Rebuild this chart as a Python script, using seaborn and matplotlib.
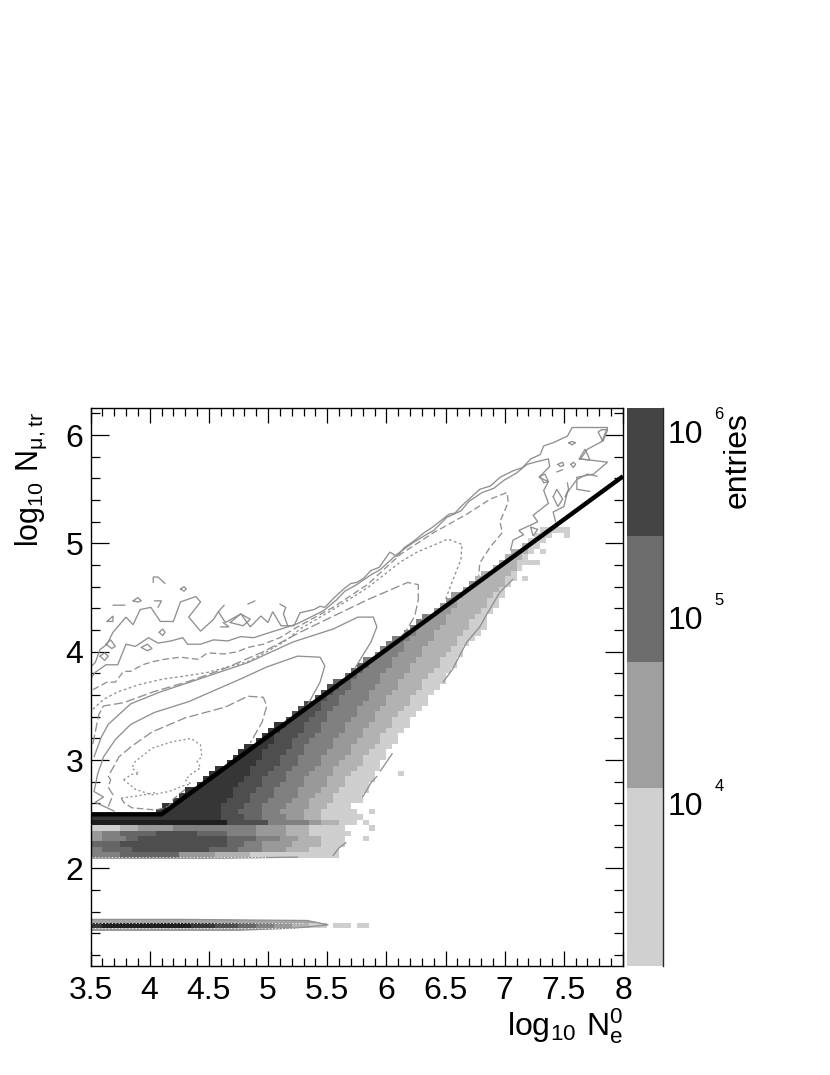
import numpy as np
import pandas as pd
import seaborn as sns
import matplotlib
matplotlib.use('Agg')
import matplotlib.pyplot as plt
from matplotlib.colors import ListedColormap
from matplotlib.ticker import MultipleLocator, LogLocator, NullFormatter, FuncFormatter

sns.set_style('ticks')
plt.rcParams['font.family'] = ['Liberation Sans', 'DejaVu Sans']
plt.rcParams['mathtext.default'] = 'regular'
for key in ['text.color', 'axes.labelcolor', 'xtick.color', 'ytick.color']:
    plt.rcParams[key] = 'black'

# grey shades of the histogram, level 1 (darkest) to 8 (lightest)
shades = ['#1f1f1f', '#363636', '#4e4e4e', '#666666', '#808080', '#999999', '#b2b2b2', '#cfcfcf']

# wedge below the cut line: row centres, first filled x, then where each level stops
wedge_y = [2.525, 2.575, 2.625, 2.675, 2.725, 2.775, 2.825, 2.875, 2.925, 2.975,
           3.025, 3.075, 3.125, 3.175, 3.225, 3.275, 3.325, 3.375, 3.425, 3.475,
           3.525, 3.575, 3.625, 3.675, 3.725, 3.775, 3.825, 3.875, 3.925, 3.975,
           4.025, 4.075, 4.125, 4.175, 4.225, 4.275, 4.325, 4.375, 4.425, 4.475,
           4.525, 4.575, 4.625, 4.675, 4.725, 4.775, 4.825, 4.875, 4.925, 4.975,
           5.025, 5.075, 5.125]
wedge_start = [4.05, 4.10, 4.20, 4.25, 4.30, 4.40, 4.45, 4.50, 4.55, 4.65,
               4.70, 4.75, 4.80, 4.90, 4.95, 5.00, 5.05, 5.15, 5.20, 5.25,
               5.30, 5.40, 5.45, 5.50, 5.55, 5.65, 5.70, 5.75, 5.80, 5.90,
               5.95, 6.00, 6.05, 6.15, 6.20, 6.25, 6.30, 6.40, 6.45, 6.50,
               6.55, 6.65, 6.70, 6.75, 6.80, 6.90, 6.95, 7.00, 7.05, 7.15,
               7.20, 7.25, 7.30]
level2_end = [4.60, 4.60, 4.65, 4.70, 4.70, 4.75, 4.80, 4.85, 4.85, 4.90,
              4.95, 4.95, 5.00, 5.05, 5.05, 5.10, 5.15]
level3_end = [4.75, 4.80, 4.85, 4.85, 4.90, 4.95, 4.95, 5.00, 5.05, 5.10,
              5.10, 5.15, 5.20, 5.20, 5.25, 5.30, 5.30, 5.35, 5.40, 5.45,
              5.45, 5.50, 5.55, 5.60]
level4_end = [4.95, 4.95, 5.00, 5.05, 5.05, 5.10, 5.15, 5.15, 5.20, 5.25,
              5.25, 5.30, 5.30, 5.35, 5.40, 5.45, 5.45, 5.50, 5.50, 5.55,
              5.60, 5.60, 5.65, 5.70, 5.70, 5.75, 5.80, 5.85]
level5_end = [5.10, 5.15, 5.20, 5.25, 5.25, 5.30, 5.30, 5.35, 5.40, 5.45,
              5.45, 5.50, 5.55, 5.55, 5.60, 5.65, 5.65, 5.70, 5.75, 5.75,
              5.80, 5.85, 5.85, 5.90, 5.95, 5.95, 6.00, 6.05, 6.05, 6.10,
              6.15, 6.15, 6.20, 6.25, 6.25, 6.30, 6.35]
level6_end = [5.30, 5.35, 5.35, 5.40, 5.45, 5.50, 5.50, 5.55, 5.55, 5.60,
              5.65, 5.70, 5.70, 5.75, 5.80, 5.80, 5.85, 5.90, 5.90, 5.95,
              6.00, 6.00, 6.05, 6.10, 6.10, 6.15, 6.20, 6.20, 6.25, 6.30,
              6.30, 6.35, 6.40, 6.40, 6.45, 6.50, 6.50, 6.55, 6.60, 6.60,
              6.65, 6.70, 6.75]
level7_end = [5.45, 5.50, 5.55, 5.55, 5.60, 5.65, 5.65, 5.70, 5.75, 5.80,
              5.80, 5.85, 5.90, 5.95, 5.95, 6.00, 6.05, 6.05, 6.10, 6.15,
              6.20, 6.20, 6.25, 6.30, 6.30, 6.35, 6.40, 6.45, 6.45, 6.50,
              6.55, 6.60, 6.60, 6.65, 6.70, 6.70, 6.75, 6.80, 6.85, 6.85,
              6.90, 6.95, 7.00, 7.00, 7.05, 7.10, 7.10, 7.15, 7.20, 7.20]
level8_end = [5.75, 5.70, 5.80, 5.80, 5.85, 5.85, 5.90, 5.90, 5.95, 5.95,
              6.00, 6.00, 6.05, 6.10, 6.10, 6.15, 6.20, 6.20, 6.25, 6.30,
              6.35, 6.35, 6.40, 6.45, 6.50, 6.50, 6.55, 6.60, 6.60, 6.65,
              6.65, 6.70, 6.75, 6.80, 6.85, 6.85, 6.85, 6.90, 6.95, 6.95,
              7.00, 7.00, 7.05, 7.10, 7.10, 7.15, 7.20, 7.20, 7.25, 7.30,
              7.35, 7.40, 7.45]

# flat rows from x = 3.5: (level, number of cells), level 0 is an empty cell
flat_y = [2.125, 2.175, 2.225, 2.275, 2.325, 2.375, 2.425, 2.475, 1.475]
row_2125 = [(5, 5), (4, 10), (6, 6), (7, 6), (8, 15)]
row_2175 = [(5, 2), (4, 5), (3, 13), (4, 5), (5, 4), (6, 4), (7, 4), (8, 5)]
row_2225 = [(4, 5), (3, 18), (4, 3), (5, 3), (6, 5), (7, 5), (8, 4)]
row_2275 = [(6, 2), (5, 4), (4, 2), (3, 15), (4, 5), (5, 4), (6, 3), (7, 4), (8, 4)]
row_2325 = [(6, 2), (5, 3), (4, 6), (3, 7), (4, 5), (5, 5), (6, 5), (7, 4), (8, 6)]
row_2375 = [(8, 5), (7, 3), (6, 6), (5, 14), (6, 5), (7, 4), (8, 6)]
row_2425 = [(1, 23), (3, 7), (5, 7), (6, 2), (7, 3), (8, 3)]
row_2475 = [(2, 22), (3, 4), (4, 3), (5, 4), (6, 3), (7, 3), (8, 6)]
row_1475 = [(2, 2), (1, 15), (2, 4), (3, 4), (4, 3), (5, 3), (6, 3), (7, 3), (8, 3), (0, 1), (8, 3), (0, 1), (8, 2)]
flat_rows = [row_2125, row_2175, row_2225, row_2275, row_2325, row_2375, row_2425, row_2475, row_1475]

# stray light cells right of the wedge
stray_x = [5.875, 5.775, 5.825, 5.875, 5.675, 5.825, 6.125, 7.525, 7.525, 7.475, 7.325, 7.275, 7.225, 7.175]
stray_y = [2.525, 2.475, 2.425, 2.375, 2.325, 2.275, 2.875, 5.075, 5.125, 5.125, 4.925, 4.825, 4.825, 4.675]

# cut line
cut_x = [3.5, 4.1, 8.0]
cut_y = [2.5, 2.5, 5.62]

# contour lines
outer_x = [3.50, 3.54, 3.58, 3.64, 3.69, 3.80, 3.86, 3.92, 4.01, 4.09, 4.20, 4.26, 4.39, 4.43, 4.33, 4.43, 4.54, 4.58, 4.64, 4.77, 4.85, 4.94, 5.00, 5.04, 5.11, 5.22,
           5.27, 5.39, 5.44, 5.48, 5.56, 5.64, 5.70, 5.75, 5.81, 5.87, 5.94, 6.03, 6.09, 6.15, 6.23, 6.32, 6.39, 6.46, 6.53, 6.58, 6.64, 6.71, 6.79, 6.88, 6.96, 7.07, 7.15, 7.22, 7.30, 7.33, 7.41, 7.53, 7.57,
           7.72, 7.87, 7.82, 7.70, 7.64, 7.87, 7.75, 7.61, 7.61, 7.72]
outer_y = [3.86, 3.90, 4.02, 4.07, 4.18, 4.32, 4.25, 4.39, 4.41, 4.28, 4.28, 4.46, 4.51, 4.46, 4.32, 4.19, 4.30, 4.37, 4.27, 4.35, 4.23, 4.33, 4.27, 4.37, 4.24, 4.24,
           4.36, 4.39, 4.42, 4.41, 4.50, 4.58, 4.63, 4.64, 4.68, 4.75, 4.78, 4.92, 4.88, 4.96, 5.02, 5.10, 5.15, 5.21, 5.27, 5.28, 5.35, 5.42, 5.50, 5.53, 5.61, 5.67, 5.70, 5.78, 5.82, 5.90, 5.93, 5.99, 6.07,
           6.07, 6.07, 5.94, 5.87, 5.78, 5.75, 5.64, 5.61, 5.50, 5.48]
second_x = [3.50, 3.54, 3.63, 3.73, 3.80, 3.88, 3.99, 4.07, 4.18, 4.28, 4.32, 4.43, 4.54, 4.66, 4.77, 4.88, 5.02, 5.11, 5.25,
            5.47, 5.58, 5.65, 5.75, 5.87, 5.95, 6.09, 6.23, 6.32, 6.40, 6.51, 6.63, 6.70, 6.81, 6.91, 6.99, 7.10, 7.19, 7.29, 7.37,
            7.38, 7.29, 7.37, 7.33, 7.37, 7.24, 7.28, 7.12, 7.16, 7.07, 7.05]
second_y = [3.75, 3.81, 3.88, 3.88, 4.07, 4.05, 4.13, 4.08, 4.10, 4.13, 4.07, 4.07, 4.11, 4.10, 4.14, 4.13, 4.18, 4.21, 4.26,
            4.38, 4.48, 4.56, 4.62, 4.71, 4.76, 4.90, 5.01, 5.07, 5.12, 5.24, 5.30, 5.39, 5.47, 5.51, 5.58, 5.65, 5.73, 5.76, 5.78,
            5.71, 5.61, 5.57, 5.49, 5.37, 5.26, 5.20, 5.12, 5.08, 5.03, 4.94]
dash_a_x = [3.52, 3.64, 3.71, 3.78, 3.84, 3.94, 4.03, 4.12, 4.26, 4.41, 4.49, 4.63, 4.74, 4.83, 4.96, 5.10, 5.25, 5.55, 5.84, 6.12, 6.40, 6.68, 6.88, 7.02, 7.03, 6.96, 6.98, 6.88, 6.79, 6.78]
dash_a_y = [3.65, 3.72, 3.72, 3.82, 3.82, 3.88, 3.91, 3.93, 3.95, 3.93, 3.99, 3.98, 4.00, 4.04, 4.07, 4.13, 4.23, 4.41, 4.62, 4.90, 5.10, 5.27, 5.41, 5.47, 5.38, 5.20, 5.10, 4.97, 4.82, 4.70]
dot_a_x = [3.52, 3.61, 3.73, 3.92, 4.12, 4.26, 4.49, 4.66, 4.83, 4.99, 5.16, 5.27, 5.55, 5.84, 6.12, 6.26, 6.52, 6.64, 6.63, 6.54, 6.50]
dot_a_y = [3.47, 3.56, 3.63, 3.70, 3.75, 3.77, 3.81, 3.86, 3.91, 4.00, 4.11, 4.21, 4.39, 4.59, 4.83, 4.92, 5.04, 4.99, 4.85, 4.60, 4.48]
dash_b_x = [3.52, 3.57, 3.61, 3.78, 4.03, 4.34, 4.62, 4.96, 5.27, 5.84, 6.18, 6.27, 6.27, 6.24, 6.16, 6.08]
dash_b_y = [3.15, 3.42, 3.50, 3.53, 3.63, 3.73, 3.84, 4.00, 4.18, 4.48, 4.64, 4.62, 4.48, 4.33, 4.18, 4.10]
solid_a_x = [3.53, 3.59, 3.65, 3.74, 3.84, 4.09, 4.34, 4.83, 5.21, 5.55, 5.76, 5.89, 5.92, 5.87, 5.78, 5.73]
solid_a_y = [3.03, 3.21, 3.33, 3.42, 3.52, 3.63, 3.72, 3.90, 4.09, 4.21, 4.32, 4.32, 4.23, 4.09, 3.93, 3.84]
solid_b_x = [3.70, 3.54, 3.61, 3.53, 3.56, 3.61, 3.71, 3.84, 4.04, 4.33, 4.77, 4.99, 5.25, 5.44, 5.48, 5.44, 5.33]
solid_b_y = [2.53, 2.61, 2.66, 2.71, 2.87, 3.03, 3.19, 3.33, 3.44, 3.54, 3.75, 3.86, 3.96, 3.95, 3.87, 3.72, 3.50]
dash_c_x = [3.65, 3.69, 3.65, 3.67, 3.65, 3.74, 3.85, 4.02, 4.30, 4.64, 4.83, 4.96, 4.99, 4.95, 4.85]
dash_c_y = [2.57, 2.68, 2.75, 2.82, 2.85, 3.03, 3.13, 3.26, 3.39, 3.49, 3.59, 3.58, 3.50, 3.35, 3.16]
dash_d_x = [3.76, 3.78, 3.85, 4.05, 4.16, 4.20, 4.30]
dash_d_y = [2.65, 2.61, 2.56, 2.54, 2.57, 2.64, 2.73]
dot_b_x = [3.78, 3.85, 3.91, 3.85, 3.88, 4.02, 4.19, 4.35, 4.43, 4.44, 4.40, 4.43, 4.35, 4.30, 4.35]
dot_b_y = [2.82, 2.87, 2.87, 2.93, 2.99, 3.11, 3.17, 3.20, 3.14, 3.03, 2.99, 2.93, 2.87, 2.82, 2.78]
dot_c_x = [3.78, 3.88, 4.02, 4.16, 4.30, 4.35]
dot_c_y = [2.82, 2.73, 2.68, 2.71, 2.77, 2.78]
dot_d_x = [3.76, 3.90, 4.05]
dot_d_y = [2.65, 2.67, 2.70]

# small closed loops and fragments of the noisy contours, split by nan
n = np.nan
islands_x = [4.03, 4.03, 4.07, 4.13, n, 4.26, 4.29, 4.31, 4.29, 4.26, n, 3.86, 3.90, 3.93, 3.90, 3.86, n,
             3.69, 3.79, n, 3.64, 3.69, 3.69, 3.64, n, 4.04, 4.10, 4.07, n, 4.58, 4.63, n, 4.83, 4.89, n,
             5.10, 5.15, 5.13, 5.17, n, 4.68, 4.77, 4.85, 4.79, 4.68, n, 4.60, 4.67, 4.62, n,
             4.08, 4.11, 4.13, 4.11, 4.08, n, 3.63, 3.67, 3.71, 3.68, 3.63, n, 3.58, 3.62, 3.65, 3.62, 3.58, n,
             3.93, 3.98, 4.02, 3.98, 3.93, n, 7.82, 7.87, 7.83, 7.79, 7.82, n, 7.54, 7.57, 7.60, 7.57, 7.54, n,
             7.45, 7.49, 7.50, 7.47, 7.45, n, 7.56, 7.58, 7.60, 7.58, 7.56, n, 7.63, 7.68, 7.72, 7.63, n,
             7.44, 7.49, n, 7.30, 7.34, 7.37, 7.33, 7.30, n, 7.41, 7.44, 7.49, 7.45, 7.41, n, 7.53, 7.54, 7.51, n,
             7.43, 7.41, 7.50, 7.53, 7.61, 7.70, 7.78, n, 7.22, 7.24, 7.28, 7.22]
islands_y = [4.64, 4.69, 4.69, 4.63, n, 4.58, 4.60, 4.58, 4.56, 4.58, n, 4.47, 4.50, 4.47, 4.46, 4.47, n,
             4.43, 4.43, n, 4.28, 4.33, 4.28, 4.28, n, 4.47, 4.47, 4.41, n, 4.37, 4.43, n, 4.44, 4.47, n,
             4.44, 4.41, 4.35, 4.23, n, 4.27, 4.35, 4.30, 4.24, 4.27, n, 4.23, 4.23, 4.27, n,
             4.18, 4.21, 4.18, 4.15, 4.18, n, 4.07, 4.11, 4.05, 4.03, 4.07, n, 3.96, 3.99, 3.96, 3.92, 3.96, n,
             4.04, 4.07, 4.03, 4.01, 4.04, n, 6.05, 6.05, 5.94, 6.03, 6.05, n, 5.93, 5.94, 5.93, 5.91, 5.93, n,
             5.73, 5.75, 5.72, 5.71, 5.73, n, 5.73, 5.75, 5.73, 5.70, 5.73, n, 5.78, 5.87, 5.77, 5.78, n,
             5.66, 5.68, n, 5.62, 5.64, 5.57, 5.56, 5.62, n, 5.43, 5.50, 5.41, 5.34, 5.43, n, 5.56, 5.50, 5.43, n,
             5.20, 5.29, 5.34, 5.47, 5.59, 5.64, 5.62, n, 5.15, 5.07, 5.13, 5.15]

# contours hugging the lower right edge of the filled cells
edge_x = [5.55, 5.60, 5.66, n, 5.80, 5.87, 5.92, n, 5.95, 6.00, 6.05, n, 6.48, 6.56, 6.68, 6.79, 6.84, 6.96, 7.07]
edge_y = [2.12, 2.19, 2.24, n, 2.66, 2.79, 2.85, n, 2.90, 2.98, 3.06, n, 3.72, 3.84, 4.09, 4.23, 4.33, 4.55, 4.67]

# thin lens of contours round the lower strip, and the base of the upper block
lens_x = [3.50, 4.25, 5.33, 5.51, 5.23, 4.75, 3.50]
lens_y = [1.53, 1.53, 1.52, 1.48, 1.45, 1.43, 1.43]
base_x = [3.50, 4.60, 5.25]
base_y = [2.095, 2.095, 2.105]
# white dotted contours on top of the dark strips
white_x = [3.50, 5.30, n, 3.50, 5.30, n, 3.50, 5.00]
white_y = [1.50, 1.50, n, 1.45, 1.45, n, 2.11, 2.11]

# colour scale
scale_edges = [1330, 2530, 12020, 57410, 272900, 1330000]
scale_shades = ['#d0d0d0', '#d0d0d0', '#9f9f9f', '#6d6d6d', '#444444']
scale_ticks = [1e4, 1e5, 1e6]
scale_powers = ['4', '5', '6']

x_ticks = [3.5, 4, 4.5, 5, 5.5, 6, 6.5, 7, 7.5, 8]
y_ticks = [2, 3, 4, 5, 6]

BW = 0.05
W, H = 830, 1075

# build the table of filled cells
cell_x, cell_y, cell_level = [], [], []


def add_cell(x, y, level):
    cell_x.append(x)
    cell_y.append(y)
    cell_level.append(level)


for i, y in enumerate(wedge_y):
    x0 = wedge_start[i]
    for level, ends in zip(range(2, 9), [level2_end, level3_end, level4_end, level5_end,
                                         level6_end, level7_end, level8_end]):
        if i >= len(ends):
            continue
        count = int(round((ends[i] - x0) / BW))
        for k in range(count):
            add_cell(x0 + (k + 0.5) * BW, y, level)
        x0 += max(count, 0) * BW

for y, runs in zip(flat_y, flat_rows):
    col = 0
    for level, count in runs:
        if level > 0:
            for k in range(count):
                add_cell(3.5 + (col + k + 0.5) * BW, y, level)
        col += count

for x, y in zip(stray_x, stray_y):
    add_cell(x, y, 8)

cells = pd.DataFrame({'x': cell_x, 'y': cell_y, 'level': cell_level})
cells['weight'] = cells['level'] - 0.5
cells = cells.round({'x': 3, 'y': 3}).drop_duplicates(['x', 'y'])

x_edges = 3.5 + BW * np.arange(91)
y_edges = 1.1 + BW * np.arange(104)

fig = plt.figure(figsize=(W / 100, H / 100), dpi=100)
ax = fig.add_axes([90.5 / W, (H - 966) / H, 532.5 / W, 558 / H])

ax.fill(lens_x, lens_y, color='#a6a6a6', lw=0, zorder=0.5)
sns.histplot(data=cells, x='x', y='y', weights='weight', bins=[x_edges, y_edges],
             cmap=ListedColormap(shades), ax=ax, linewidth=0, antialiased=True)

# contours
GREY = '#909090'
LW = 0.95
for xs, ys, style in [
    (outer_x, outer_y, '-'), (second_x, second_y, '-'),
    (dash_a_x, dash_a_y, (0, (5, 2.5))), (dot_a_x, dot_a_y, (0, (2, 2))),
    (dash_b_x, dash_b_y, (0, (7, 2.5))), (solid_a_x, solid_a_y, '-'),
    (solid_b_x, solid_b_y, '-'), (dash_c_x, dash_c_y, (0, (7, 2.5))),
    (dash_d_x, dash_d_y, (0, (5, 2.5))), (dot_b_x, dot_b_y, (0, (1.5, 2))),
    (dot_c_x, dot_c_y, (0, (1.5, 2))), (dot_d_x, dot_d_y, (0, (1.5, 2))),
    (islands_x, islands_y, '-'), (edge_x, edge_y, '-'),
    (lens_x, lens_y, '-'), (base_x, base_y, '-'),
]:
    ax.plot(xs, ys, color=GREY, lw=LW, ls=style, solid_joinstyle='miter')
ax.plot(white_x, white_y, color='white', lw=0.7, ls=(0, (1, 2.5)))

# black cut line
ax.plot(cut_x, cut_y, color='black', lw=3.2, solid_capstyle='butt', solid_joinstyle='miter')

ax.set_xlim(3.5, 8)
ax.set_ylim(1.1, 6.25)
ax.set_xticks(x_ticks)
ax.set_yticks(y_ticks)
ax.xaxis.set_major_formatter(FuncFormatter(lambda v, p: f'{v:g}'))
ax.yaxis.set_major_formatter(FuncFormatter(lambda v, p: f'{v:g}'))
ax.xaxis.set_minor_locator(MultipleLocator(0.1))
ax.yaxis.set_minor_locator(MultipleLocator(0.2))
ax.tick_params(axis='x', which='major', direction='in', top=True, bottom=True, length=11,
               width=0.9, labelsize=23, pad=7)
ax.tick_params(axis='x', which='minor', direction='in', top=True, bottom=True, length=5.8, width=0.9)
ax.tick_params(axis='y', which='major', direction='in', left=True, right=True, length=13,
               width=0.9, labelsize=23, pad=5)
ax.tick_params(axis='y', which='minor', direction='in', left=True, right=True, length=6.5, width=0.9)
for s in ax.spines.values():
    s.set_visible(True)
    s.set_linewidth(1.0)
    s.set_color('black')
ax.set_xlabel(r'$log_{10}\ N_{e}^{0}$', fontsize=23, loc='right', labelpad=0)
ax.set_ylabel(r'$log_{10}\ N_{\mu,tr}$', fontsize=22, loc='top', labelpad=12)
ax.yaxis.label.set_y(0.992)

# colour scale on its own axes
cax = fig.add_axes([627 / W, (H - 966) / H, 36 / W, 558 / H])
cax.set_yscale('log')
cax.pcolormesh([0, 1], scale_edges, np.arange(5).reshape(5, 1), cmap=ListedColormap(scale_shades),
               vmin=-0.5, vmax=4.5)
cax.set_xlim(0, 1)
cax.set_ylim(scale_edges[0], scale_edges[-1])
cax.set_xticks([])
cax.yaxis.tick_right()
cax.set_yticks(scale_ticks)
cax.set_yticklabels(['10'] * 3)
cax.yaxis.set_minor_locator(LogLocator(base=10, subs=range(2, 10), numticks=12))
cax.yaxis.set_minor_formatter(NullFormatter())
cax.tick_params(axis='y', which='major', direction='in', right=True, left=False, length=14,
                width=0.9, labelsize=23, pad=3)
cax.tick_params(axis='y', which='minor', direction='in', right=True, left=False, length=7, width=0.9)
for name, s in cax.spines.items():
    s.set_visible(name == 'right')
cax.spines['right'].set_linewidth(1.0)
for tick, power in zip(scale_ticks, scale_powers):
    cax.annotate(power, xy=(1, tick), xycoords=cax.get_yaxis_transform(), xytext=(37, 12),
                 textcoords='offset points', fontsize=12, ha='left', va='center')
fig.text(738 / W, 1 - 412 / H, 'entries', rotation=90, fontsize=23, ha='center', va='top')

fig.savefig('out.png', dpi=100)
